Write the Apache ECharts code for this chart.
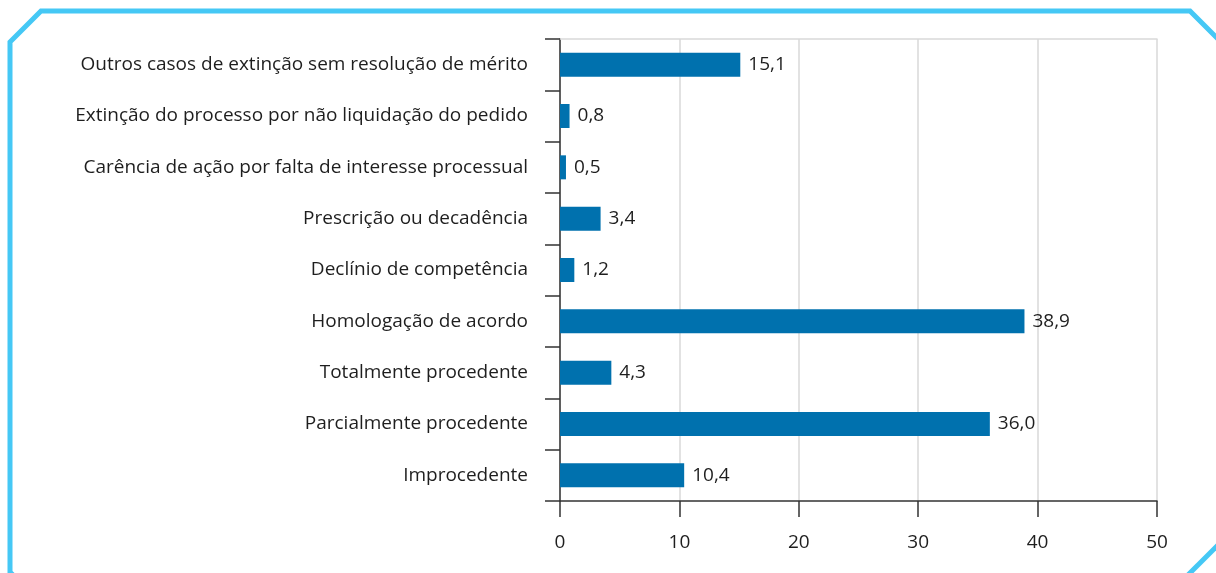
<!DOCTYPE html>
<html>
<head>
<meta charset="utf-8">
<script src="https://cdn.jsdelivr.net/npm/echarts@6/dist/echarts.min.js"></script>
<style>
  html, body { margin: 0; padding: 0; background: #fff; }
  #chart { width: 1216px; height: 573px; }
</style>
</head>
<body>
<div id="chart"></div>
<script>
// categories, bottom to top as echarts draws them
const categories = [
  'Improcedente',
  'Parcialmente procedente',
  'Totalmente procedente',
  'Homologação de acordo',
  'Declínio de competência',
  'Prescrição ou decadência',
  'Carência de ação por falta de interesse processual',
  'Extinção do processo por não liquidação do pedido',
  'Outros casos de extinção sem resolução de mérito'
];
const values = [10.4, 36.0, 4.3, 38.9, 1.2, 3.4, 0.5, 0.8, 15.1];
const xTicks = [0, 10, 20, 30, 40, 50];

const font = '"Open Sans", "Noto Sans", sans-serif';
const txt = '#1e1e1e';
const myChart = echarts.init(document.getElementById('chart'));

myChart.setOption({
  animation: false,
  grid: { left: 560, right: 59, top: 39, bottom: 72, containLabel: false },
  xAxis: [
    {
      type: 'value',
      min: xTicks[0],
      max: xTicks[xTicks.length - 1],
      interval: 10,
      axisLine: { show: true, lineStyle: { color: '#333', width: 1.5 } },
      axisTick: { show: true, length: 16, lineStyle: { color: '#333', width: 1.5 } },
      axisLabel: { margin: 32, color: txt, fontSize: 19, fontFamily: font },
      splitLine: { show: true, lineStyle: { color: '#d9d9d9', width: 1.5 } }
    },
    {
      // top border of the plot box
      type: 'value',
      position: 'top',
      min: 0, max: 50,
      axisLine: { show: true, lineStyle: { color: '#d9d9d9', width: 1.5 } },
      axisTick: { show: false },
      axisLabel: { show: false },
      splitLine: { show: false }
    }
  ],
  yAxis: {
    type: 'category',
    data: categories,
    axisLine: { show: true, lineStyle: { color: '#333', width: 1.5 } },
    axisTick: { show: true, length: 15, lineStyle: { color: '#333', width: 1.5 } },
    axisLabel: { margin: 32, color: txt, fontSize: 19, fontFamily: font }
  },
  series: [{
    type: 'bar',
    data: values,
    barWidth: 24,
    itemStyle: { color: '#0071ae' },
    label: {
      show: true,
      position: 'right',
      distance: 8,
      color: txt,
      fontSize: 19,
      fontFamily: font,
      formatter: p => p.value.toFixed(1).replace('.', ',')
    }
  }],
  graphic: [{
    type: 'polyline',
    silent: true,
    shape: {
      points: [[40, 602], [10, 572], [10, 42], [41, 11], [1190, 11], [1230, 51]]
    },
    style: { stroke: '#45c8f5', lineWidth: 5, fill: null }
  }, {
    type: 'polyline',
    silent: true,
    shape: { points: [[1186, 577], [1226, 537]] },
    style: { stroke: '#45c8f5', lineWidth: 5, fill: null }
  }]
});
</script>
</body>
</html>
